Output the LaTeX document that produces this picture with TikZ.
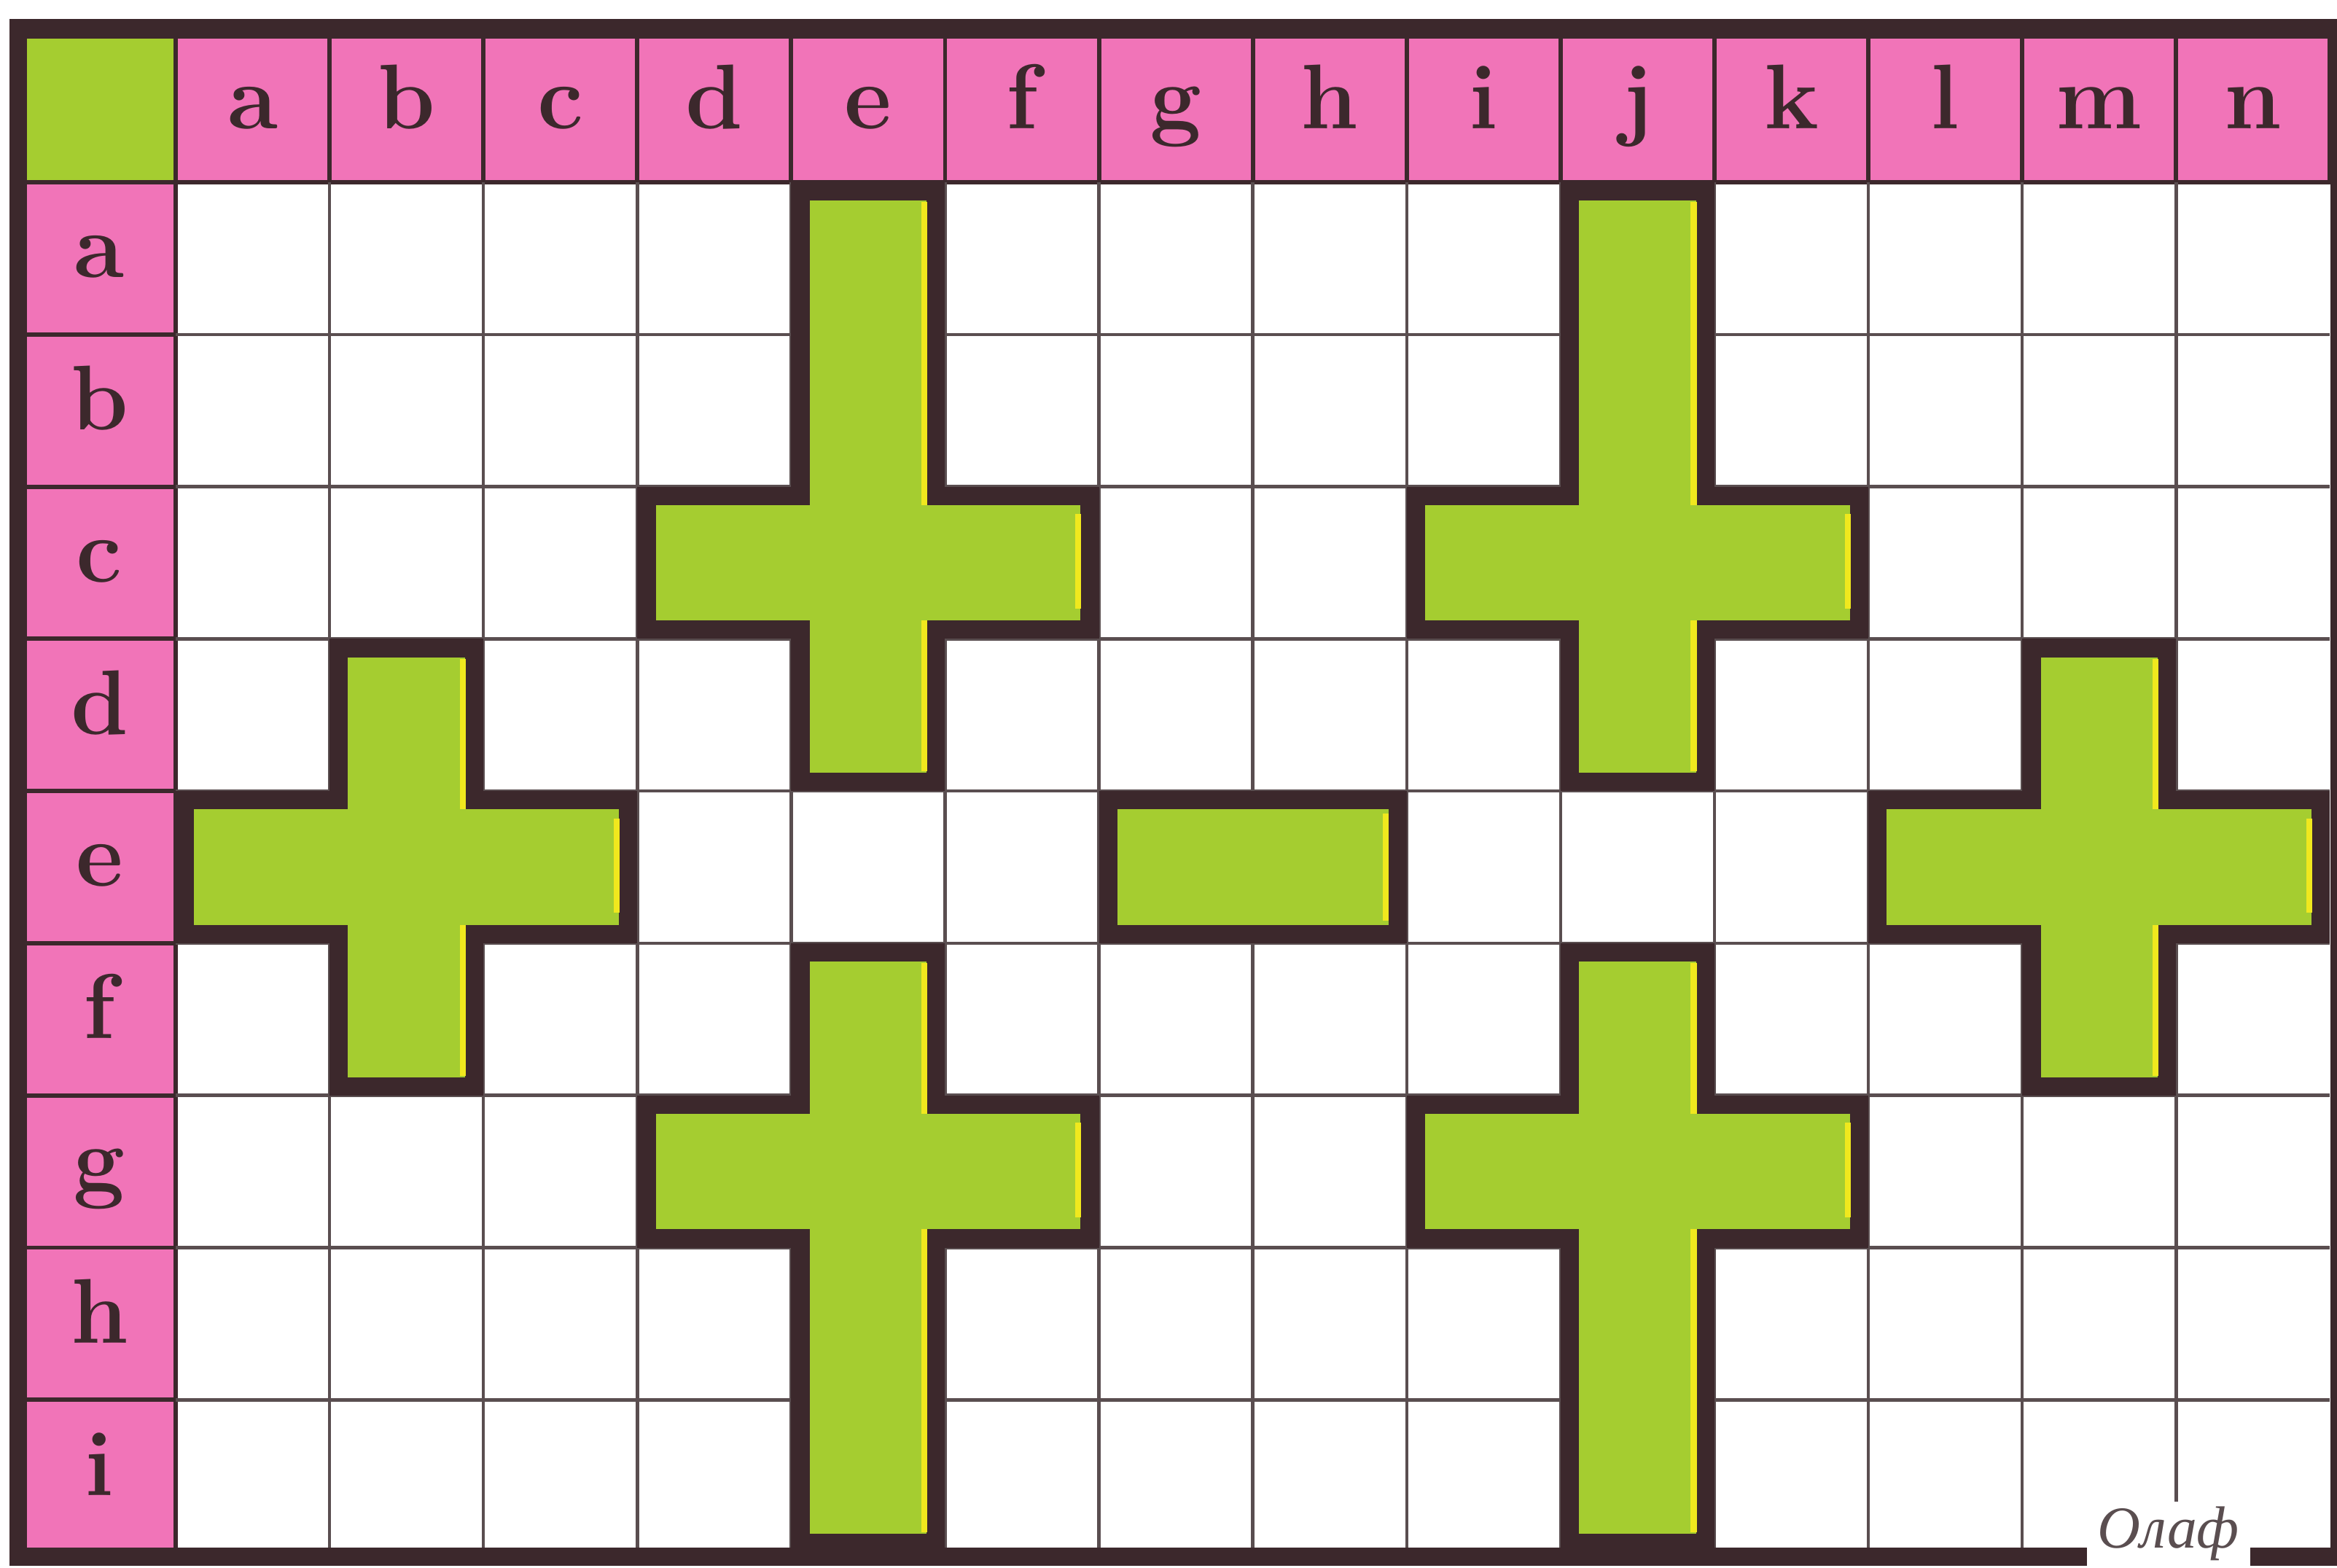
\documentclass[tikz,border=0pt]{standalone}
\usepackage{fontspec}
\usepackage{tikz}
\newfontfamily\signfont{Liberation Serif}
\definecolor{cPink}{RGB}{241,116,184}
\definecolor{cLeaf}{RGB}{165,205,48}
\definecolor{cShine}{RGB}{240,232,30}
\definecolor{cInk}{RGB}{60,40,44}
\definecolor{cGrid}{RGB}{90,78,80}
\tikzset{
	headcell/.style={rectangle, draw=cInk, line width=0.8pt, fill=cPink, minimum width=1cm, minimum height=0.947cm, inner sep=0pt, text height=0.25cm, text depth=0cm, text=cInk, font=\fontsize{17}{19}\selectfont\bfseries},
	sidecell/.style={headcell, minimum width=0.99cm, minimum height=0.989cm},
	cornercell/.style={rectangle, draw=cInk, line width=0.8pt, fill=cLeaf, minimum width=0.99cm, minimum height=0.947cm, inner sep=0pt},
	gridline/.style={draw=cGrid, line width=0.6pt},
	% board pieces
	crossshape/.style={draw=cInk, line width=3.4pt, fill=cLeaf, line join=miter},
	shine/.style={draw=cShine, line width=1.1pt},
	frameline/.style={draw=cInk, line width=3.3pt},
	signature/.style={fill=white, inner xsep=2pt, inner ysep=1pt, text=cGrid, font=\signfont\itshape\fontsize{11}{13}\selectfont},
}
% cross: #1 column, #2 row of the middle cell, #3 cells above, #4 cells below
\newcommand{\greencross}[4]{%
	\begin{scope}[shift={(#1-1,-#2)}]
		\path[crossshape] (0.06,{1+#3-0.06}) -- (0.94,{1+#3-0.06}) -- (0.94,0.94) -- (1.94,0.94)
			-- (1.94,0.06) -- (0.94,0.06) -- (0.94,{-#4+0.06}) -- (0.06,{-#4+0.06})
			-- (0.06,0.06) -- (-0.94,0.06) -- (-0.94,0.94) -- (0.06,0.94) -- cycle;
		\draw[shine] (0.865,{1+#3-0.13}) -- (0.865,0.88);
		\draw[shine] (0.865,0.12) -- (0.865,{-#4+0.13});
		\draw[shine] (1.865,0.82) -- (1.865,0.2);
	\end{scope}}

\begin{document}
\begin{tikzpicture}[x=1cm, y=0.989cm]
	\useasboundingbox (-1.1416,-9.1018) rectangle (14.0455,1.1976);
	% headers
	\foreach \l [count=\i] in {a,b,c,d,e,f,g,h,i,j,k,l,m,n}
		\node[headcell] (top-\l) at (\i-0.5,0.479) {\l};
	\foreach \l [count=\i] in {a,b,c,d,e,f,g,h,i}
		\node[sidecell] (side-\l) at (-0.495,{0.5-\i}) {\l};
	\node[cornercell] (corner) at (-0.495,0.479) {};
	% grid
	\foreach \x in {1,...,13}
		\draw[gridline] (\x,0) -- (\x,-9);
	\foreach \y in {1,...,8}
		\draw[gridline] (0,-\y) -- (14,-\y);
	% crosses and the minus
	\greencross{5}{3}{2}{1}
	\greencross{10}{3}{2}{1}
	\greencross{2}{5}{1}{1}
	\greencross{13}{5}{1}{1}
	\greencross{5}{7}{1}{2}
	\greencross{10}{7}{1}{2}
	\path[crossshape] (6.06,-4.06) rectangle (7.94,-4.94);
	\draw[shine] (7.865,-4.15) -- (7.865,-4.85);
	% frame
	\draw[frameline] (-1.023,1.013) rectangle (14.06,-9.03);
	\node[signature] (sign) at (12.95,-8.88) {Олаф};
\end{tikzpicture}
\end{document}
